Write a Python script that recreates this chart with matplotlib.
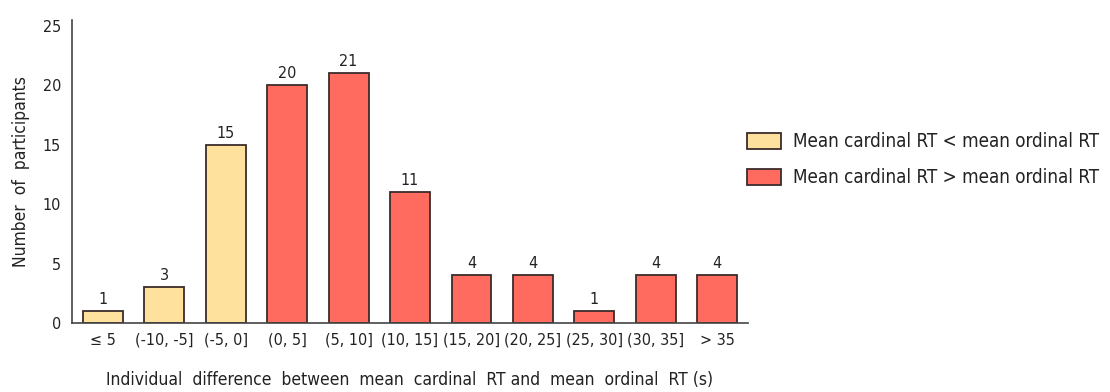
import matplotlib
matplotlib.use("Agg")
import matplotlib.pyplot as plt
from matplotlib.patches import Patch

categories = ["≤ 5", "(-10, -5]", "(-5, 0]", "(0, 5]", "(5, 10]", "(10, 15]",
              "(15, 20]", "(20, 25]", "(25, 30]", "(30, 35]", "> 35"]
counts = [1, 3, 15, 20, 21, 11, 4, 4, 1, 4, 4]
faster_cardinal = [True, True, True, False, False, False, False, False, False, False, False]
yticks = [0, 5, 10, 15, 20, 25]

col_less = "#FFE19E"
col_more = "#FF6B5F"
edge = "#3a2c2a"
text_col = "#222222"

plt.rcParams["font.family"] = ["DejaVu Sans"]
plt.rcParams["font.stretch"] = "condensed"

fig = plt.figure(figsize=(11.10, 3.92), dpi=100)
ax = fig.add_axes([0.0649, 0.176, 0.609, 0.773])

colors = [col_less if f else col_more for f in faster_cardinal]
x = list(range(len(categories)))
bars = ax.bar(x, counts, width=0.65, color=colors, edgecolor=edge, linewidth=1.3)
for xi, c in zip(x, counts):
    ax.text(xi, c + 0.35, str(c), ha="center", va="bottom", fontsize=11.5, color=text_col)

ax.set_xlim(-0.5, 10.5)
ax.set_ylim(0, 25.5)
ax.set_xticks(x)
ax.set_xticklabels(categories, fontsize=11.5, color=text_col)
ax.set_yticks(yticks)
ax.set_yticklabels([str(t) for t in yticks], fontsize=11.5, color=text_col)
ax.tick_params(axis="both", length=0, pad=7)
ax.tick_params(axis="y", pad=8)
for s in ["top", "right"]:
    ax.spines[s].set_visible(False)
for s in ["left", "bottom"]:
    ax.spines[s].set_color("#444444")
    ax.spines[s].set_linewidth(1.2)

ax.set_xlabel("Individual  difference  between  mean  cardinal  RT and  mean  ordinal  RT (s)",
              fontsize=12.5, color=text_col, labelpad=17)
ax.set_ylabel("Number  of  participants", fontsize=12.5, color=text_col, labelpad=9)

handles = [Patch(facecolor=col_less, edgecolor=edge, linewidth=1.3),
           Patch(facecolor=col_more, edgecolor=edge, linewidth=1.3)]
labels = ["Mean cardinal RT < mean ordinal RT",
          "Mean cardinal RT > mean ordinal RT"]
fig.legend(handles, labels, loc="center left", bbox_to_anchor=(0.658, 0.592),
           frameon=False, fontsize=13.5, handlelength=1.8, handleheight=1.0,
           labelspacing=0.9, handletextpad=0.64, labelcolor=text_col)

fig.savefig("out.png", dpi=100)
